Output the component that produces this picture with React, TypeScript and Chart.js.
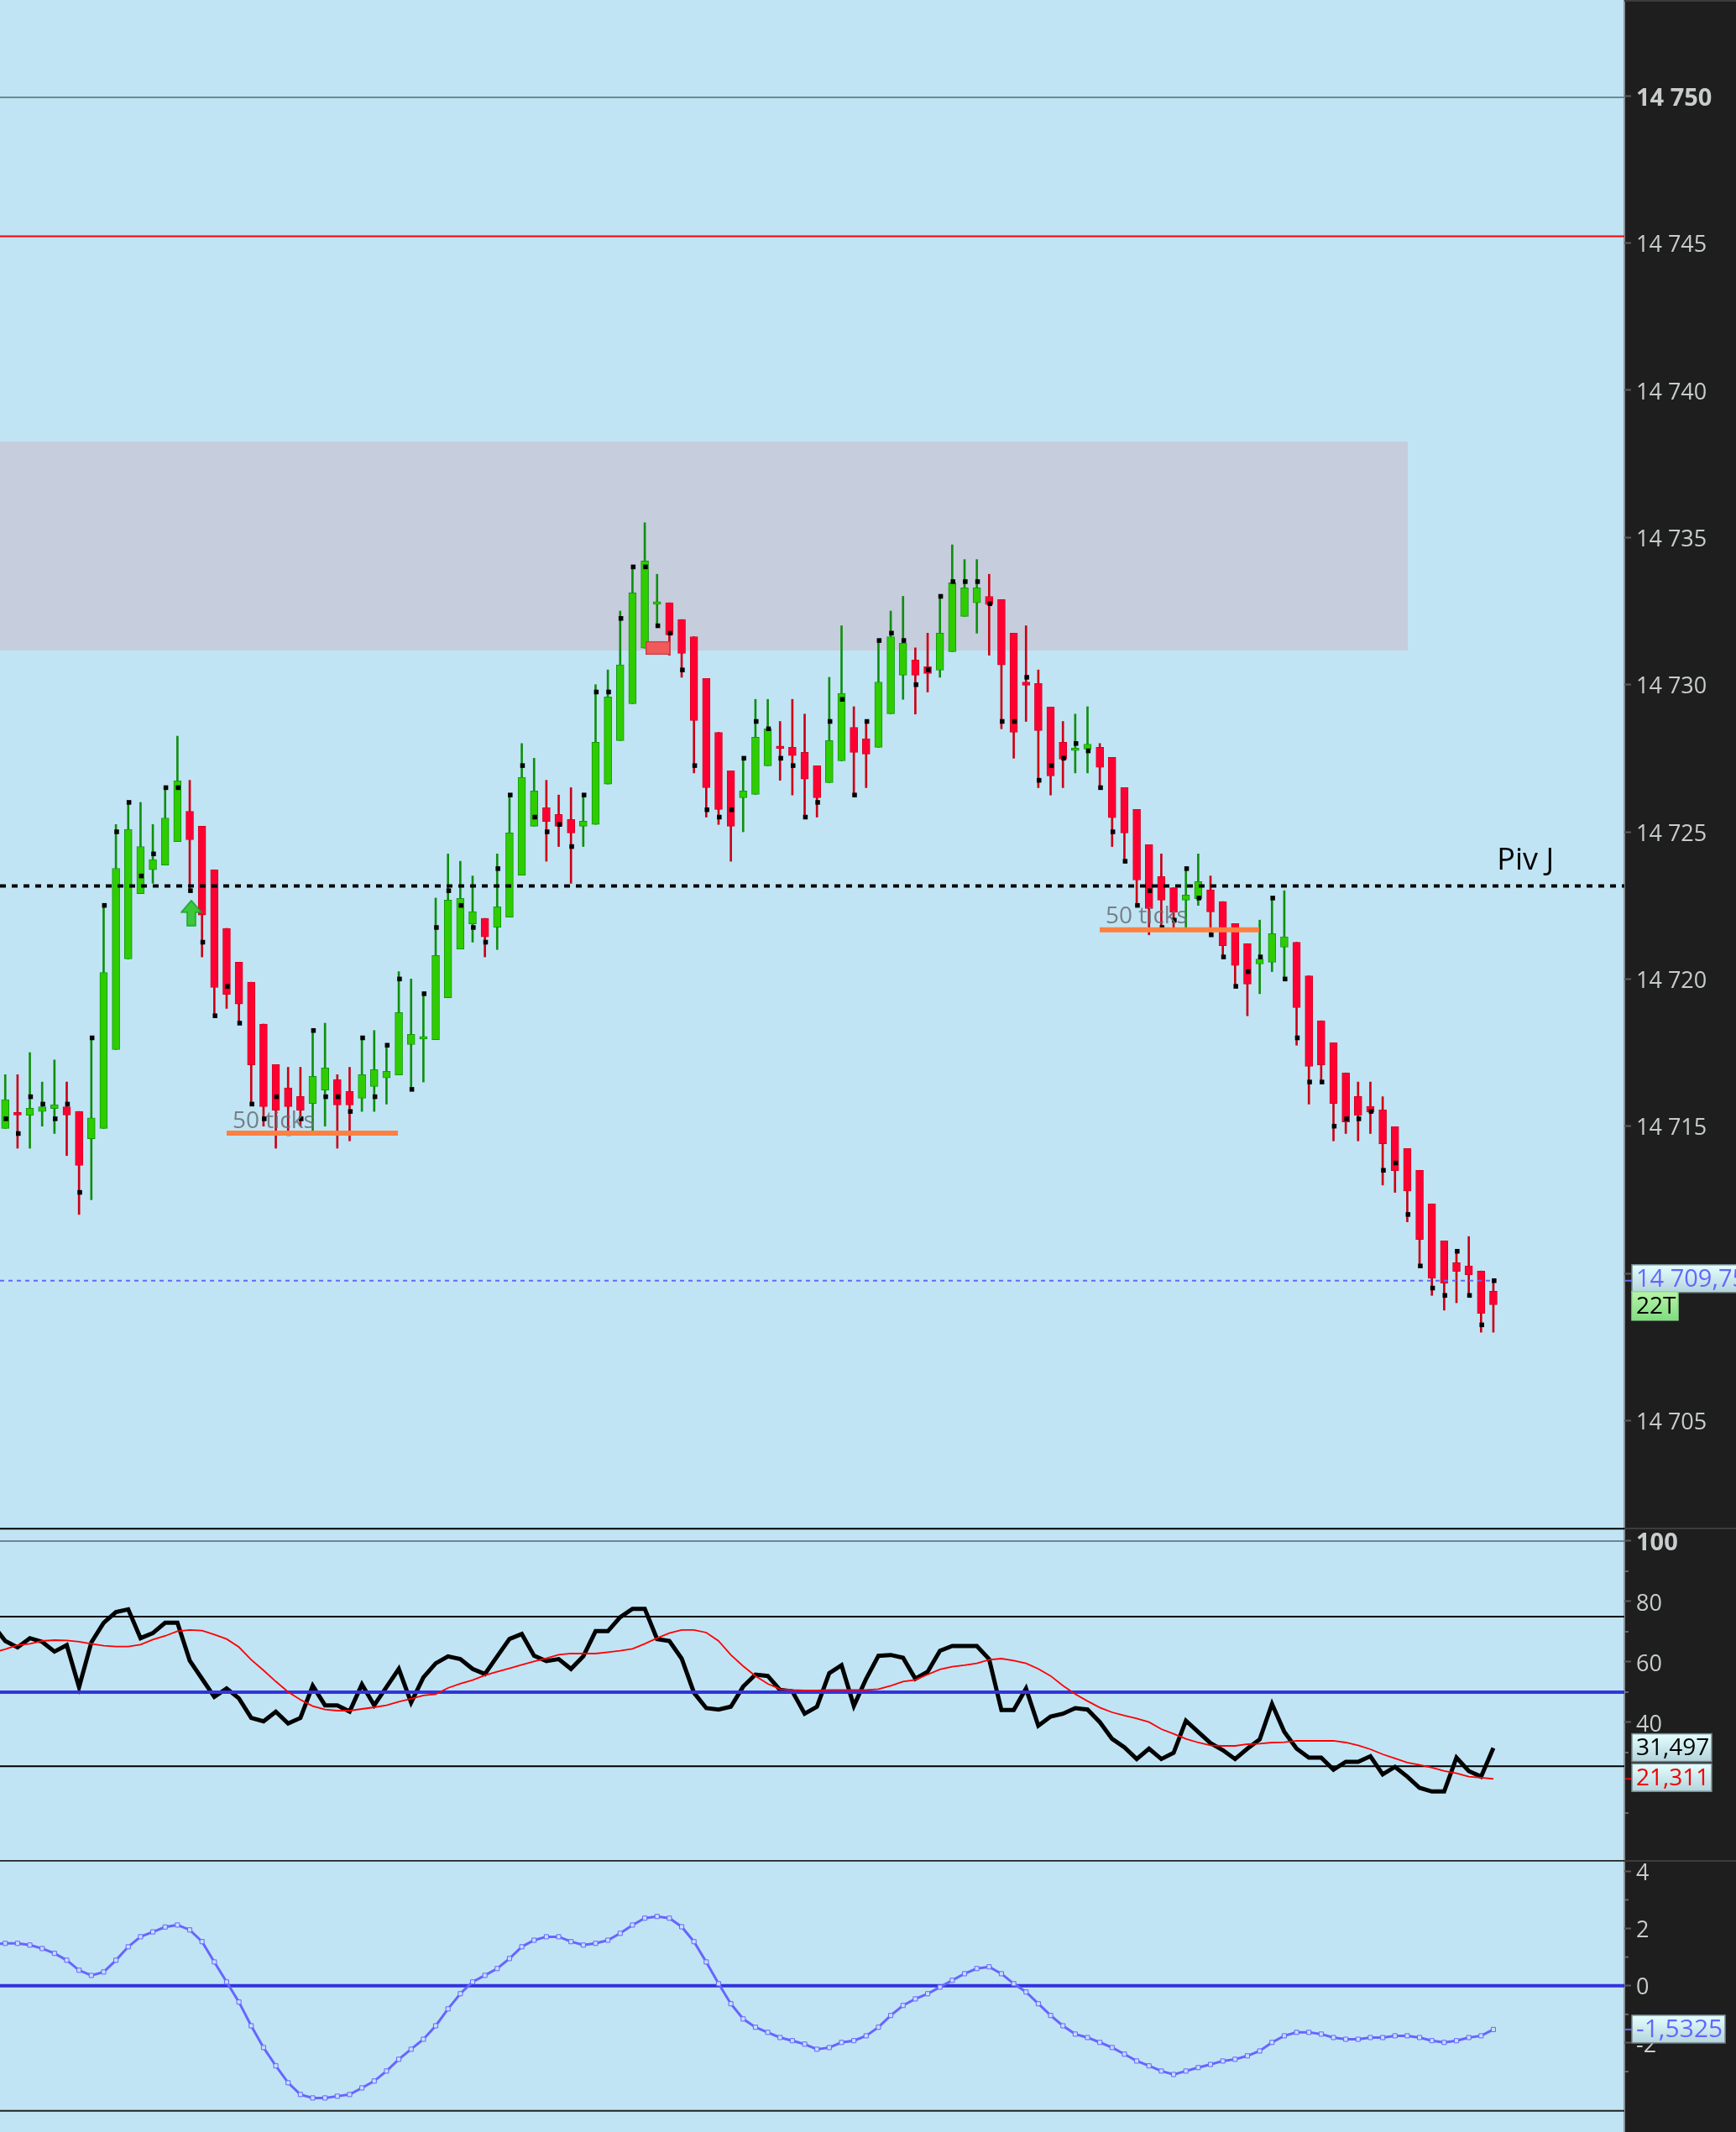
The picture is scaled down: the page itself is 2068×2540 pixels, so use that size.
import React, { useEffect, useRef } from "react";
import { Chart, registerables } from "chart.js";

Chart.register(...registerables);

const BASE_PRICE = 14700;
// Candle values are price minus BASE_PRICE
const opens = [
  14.92,15.42,15.37,15.50,15.60,15.66,15.50,14.57,14.92,17.60,
  20.68,22.90,23.71,23.87,24.67,25.70,25.19,23.71,21.72,20.57,
  19.89,18.47,17.09,16.30,16.01,15.77,16.23,16.58,16.18,15.95,
  16.35,16.64,16.74,17.77,17.96,17.94,19.36,21.02,21.87,22.06,
  21.76,22.10,23.53,25.19,25.82,25.59,25.42,25.19,25.25,26.62,
  28.10,29.35,31.24,32.73,32.78,32.21,31.63,30.21,28.38,27.07,
  26.16,26.27,27.24,27.85,27.87,27.70,27.24,26.67,27.41,28.55,
  28.16,27.87,29.01,30.32,30.84,30.61,30.49,31.12,32.32,32.78,
  33.00,32.89,31.75,30.09,30.04,29.24,28.04,27.76,27.81,27.87,
  27.53,26.50,25.76,24.56,23.48,23.10,22.68,22.73,23.02,22.63,
  21.88,21.20,20.51,20.57,21.08,21.25,20.11,18.58,17.83,16.81,
  16.01,15.67,15.55,14.98,14.24,13.50,12.36,11.10,10.36,10.25,
  10.08,9.39,
];
const closes = [
  15.90,15.38,15.61,15.66,15.73,15.38,13.67,15.28,20.22,23.76,
  25.08,24.50,24.06,25.47,26.73,24.73,22.17,19.71,19.48,19.15,
  17.08,15.66,15.54,15.66,15.54,16.69,16.98,15.72,15.72,16.75,
  16.92,16.86,18.86,18.12,17.99,20.80,22.68,22.74,22.29,21.43,
  22.45,24.96,26.85,26.39,25.35,25.19,24.96,25.36,28.04,29.58,
  30.67,33.12,34.20,32.76,31.69,31.06,28.78,26.50,25.76,25.19,
  26.39,28.21,28.50,27.83,27.59,26.79,26.16,28.10,29.70,27.70,
  27.64,30.09,31.63,31.41,30.32,30.38,31.75,33.46,33.29,33.29,
  32.72,30.67,28.38,29.98,28.44,26.90,27.47,27.80,27.98,27.19,
  25.48,24.96,23.36,22.39,22.68,22.27,22.85,23.31,22.28,21.13,
  20.46,19.83,20.68,21.54,21.43,19.03,17.03,17.08,15.77,15.14,
  15.37,15.48,14.40,13.49,12.80,11.15,9.84,9.67,10.07,9.95,
  8.64,8.93,
];
const highs = [
  16.75,16.75,17.5,16.5,17.25,16.5,15.50,18,22.5,25.25,
  26,26,25.25,26.5,28.25,26.75,25.19,23.71,21.72,20.57,
  19.89,18.47,17.09,17,17,18.25,18.5,16.75,17,18,
  18.25,17.75,20.25,20,19.5,22.75,24.25,24,23.5,22.06,
  24.25,26.25,28,27.5,26.75,26.25,26.5,26.25,30,30.5,
  32.5,34,35.5,33.75,32.78,32.21,31.63,30.21,28.38,27.07,
  27.5,29.5,29.5,28.75,29.5,29,27.24,30.25,32,29.25,
  28.75,31.5,32.5,33,31.25,31.75,33,34.75,34.25,34.25,
  33.75,32.89,31.75,32,30.5,29.24,28.75,29,29.25,28,
  27.53,26.5,25.76,24.56,24.25,23.10,23.75,24.25,23.5,22.63,
  21.88,21.20,22,22.75,23,21.25,20.11,18.58,17.83,16.81,
  16.5,16.5,16,14.98,14.24,13.5,12.36,11.10,10.75,11.25,
  10.08,9.75,
];
const lows = [
  14.92,14.25,14.25,15,14.75,14,12,12.5,14.92,17.60,
  20.68,22.90,23.25,23.87,24.67,23,20.75,18.75,19,18.5,
  15.75,15,14.25,14.75,15,14.75,15,14.25,14.5,15.5,
  15.5,15.75,16.74,16.25,16.5,17.94,19.36,21.02,21.25,20.75,
  21,22.10,23.53,25.19,24,24.5,23.25,24.5,25.25,26.62,
  28.10,29.35,31.24,32,31,30.25,27,25.5,25.25,24,
  25,26.27,27.24,26.75,26.25,25.5,25.5,26.67,27.41,26.25,
  26.5,27.87,29.01,29.5,29,29.75,30.25,31.12,32.32,31.75,
  31,28.5,27.5,28.75,26.5,26.25,26.5,27,27,26.5,
  24.5,24,22.5,21.5,21.75,21.75,21.75,22.5,21.5,20.75,
  19.75,18.75,19.5,20.25,20,17.75,15.75,16.5,14.5,14.75,
  14.5,14.75,13,12.75,11.75,10.25,9.25,8.75,9,9.25,
  8,8,
];
const realCloses = [
  15.25,14.75,16,15.75,15.25,15.75,12.75,18,22.5,25,
  26,23.5,24.25,26.5,26.5,23,21.25,18.75,19.75,18.5,
  15.75,15.25,16,14.75,15.25,18.25,16,16,15.5,18,
  16,17.75,20,16.25,19.5,21.75,23,22.5,21.75,21.25,
  23.75,26.25,27.25,25.5,25,25.25,24.5,26.25,29.75,29.75,
  32.25,34,34,32,31.75,30.5,27.25,25.75,25.5,25.75,
  27.5,28.75,28.5,27.5,27.25,25.5,26,28.75,29.5,26.25,
  28.75,31.5,31.75,31.5,30,30.5,33,33.5,33.5,33.5,
  32.75,28.75,28.75,30.25,26.75,27.25,27.5,28,27.75,26.5,
  25,24,22.5,23,21.75,22,23.75,22.75,21.5,20.75,
  19.75,20.25,20.75,22.75,20,18,16.5,16.5,15,15.25,
  15.25,15.5,13.5,13.75,12,10.25,9.5,9.25,10.75,9.25,
  8.25,9.75,
];
const rsi = [
  66.94,64.81,67.87,66.67,63.43,65.56,51.67,66.48,72.96,76.48,
  77.41,67.87,69.54,72.96,72.96,60.46,54.44,48.43,51.2,47.96,
  41.48,40.37,43.52,39.63,41.48,52.13,45.65,45.65,43.61,52.59,
  45.65,51.67,57.69,46.57,54.91,59.54,61.85,60.93,57.69,56.02,
  61.85,67.59,69.26,62.04,60.28,60.93,57.69,61.85,70.19,70.19,
  74.81,77.59,77.59,67.59,66.94,61.11,49.81,44.72,44.26,45.19,
  51.85,55.83,55.37,50.74,50.28,42.87,45.19,56.3,58.89,45.46,
  54.44,62.04,62.31,61.39,54.44,56.76,63.7,65.28,65.28,65.28,
  60.93,44.07,44.07,51.2,38.89,41.94,42.87,44.72,44.26,40.09,
  34.54,31.76,27.87,31.3,27.87,29.91,40.56,36.85,33.15,30.83,
  27.87,31.3,34.35,46.11,36.85,31.3,28.33,28.33,24.35,26.94,
  26.94,28.8,22.78,25.28,22.04,18.33,17.13,17.13,28.33,23.89,
  22.04,31.5,
];
const rsiSignal = [
  64.17,65.56,66.02,66.94,67.22,67.13,66.67,66.02,65.37,65.09,
  65.09,65.74,67.41,68.61,70.19,70.56,70.37,69.07,67.59,64.91,
  60.74,57.22,53.52,50.09,47.5,45.37,44.26,43.89,43.89,44.44,
  45,45.65,46.85,47.78,48.89,49.35,51.39,52.78,53.98,55.56,
  56.76,57.87,59.07,60.19,61.2,62.41,62.78,62.78,62.78,63.24,
  63.7,64.35,66.02,67.87,69.54,70.56,70.56,69.72,66.94,62.31,
  58.61,55.37,52.78,51.02,50.74,50.56,50.56,50.74,50.74,50.74,
  50.74,51.02,52.13,53.52,54.07,55.83,57.5,58.43,58.89,59.54,
  60.74,61.11,60.46,59.54,57.69,55.37,52.13,49.35,47.04,44.91,
  43.33,42.22,41.3,40.09,37.78,36.2,34.54,33.33,32.41,32.22,
  32.22,32.78,32.96,33.33,33.43,33.89,33.89,33.89,33.89,33.33,
  32.41,31.11,29.44,28.06,26.67,25.93,25,23.89,23.15,22.04,
  21.67,21.31,
];
const oscillator = [
  1.48,1.48,1.42,1.30,1.13,0.89,0.54,0.36,0.48,0.89,
  1.36,1.71,1.88,2.05,2.12,1.95,1.54,0.83,0.13,-0.57,
  -1.40,-2.16,-2.80,-3.39,-3.80,-3.92,-3.92,-3.86,-3.80,-3.57,
  -3.33,-2.98,-2.57,-2.22,-1.87,-1.40,-0.81,-0.28,0.13,0.36,
  0.60,0.95,1.36,1.59,1.71,1.71,1.54,1.42,1.48,1.59,
  1.83,2.12,2.36,2.42,2.36,2.06,1.54,0.83,0.07,-0.63,
  -1.16,-1.45,-1.63,-1.81,-1.92,-2.04,-2.22,-2.16,-1.98,-1.92,
  -1.75,-1.45,-1.04,-0.69,-0.46,-0.28,-0.05,0.19,0.42,0.60,
  0.66,0.42,0.07,-0.22,-0.63,-1.04,-1.40,-1.69,-1.81,-1.98,
  -2.16,-2.39,-2.63,-2.80,-2.98,-3.10,-2.98,-2.86,-2.75,-2.63,
  -2.57,-2.45,-2.28,-1.98,-1.75,-1.63,-1.63,-1.69,-1.81,-1.87,
  -1.87,-1.81,-1.81,-1.75,-1.75,-1.81,-1.92,-1.98,-1.92,-1.81,
  -1.75,-1.53,
];
// Values one bar before the first visible bar, so lines run in from the left edge
const rsiBefore = 72.3;
const signalBefore = 63.2;
const oscillatorBefore = 1.45;

const priceTicks = [14705, 14710, 14715, 14720, 14725, 14730, 14735, 14740, 14745, 14750];
const rsiTicks = [100, 80, 60, 40];
const rsiMinorTicks = [90, 70, 50, 30, 10];
const oscTicks = [4, 2, 0, -2];
const oscMinorTicks = [3, 1, -1, -3];
const boldTicks = [14750, 100];

const pivotPrice = 14723.16;
const pivotLabel = "Piv J";
const lastPrice = 14709.75;
const lastPriceLabel = "14 709,75";
const timerLabel = "22T";
const greyLevel = 14749.95;
const redLevel = 14745.23;
const zoneTop = 14738.26;
const zoneBottom = 14731.16;
const zoneEndIndex = 114.04;
const tickLabel = "50 ticks";
const tickLines = [
  { from: 18.0, to: 31.93, price: 14714.76, labelPrice: 14715.16, labelFrom: 18.48 },
  { from: 88.99, to: 101.96, price: 14721.67, labelPrice: 14722.12, labelFrom: 89.47 },
];
const arrowPoint = { x: 15.13, y: 14722.24 };
const orderBox = { x: 53.07, from: 14731.02, to: 14731.47 };
const rsiLabels = { value: "31,497", signal: "21,311" };
const oscLabel = "-1,5325";

const W = 2068;
const PLOT_W = 1935;
const AXIS_W = W - PLOT_W;
const X_MIN = -0.427;
const X_MAX = 131.65;
const AXIS_COLOR = "#c8cccc";
const BG = "#c0e4f4";
const PANEL = "#1e1e1e";

const idx = opens.map((_, i) => i);
const px = (v: number) => BASE_PRICE + v;

const level = (y: number, color: string, width: number, order: number, dash: number[] = [], x0 = X_MIN, x1 = X_MAX) => ({
  type: "line" as const,
  data: [{ x: x0, y }, { x: x1, y }],
  borderColor: color,
  borderWidth: width,
  borderDash: dash,
  pointRadius: 0,
  order,
});

const drawBox = (ctx: CanvasRenderingContext2D, x: number, y: number, w: number, h: number, text: string, color: string, size = 28, top = "#e4ffff", bottom = "#b4d4dc", border = "#7a8a90") => {
  const g = ctx.createLinearGradient(0, y, 0, y + h);
  g.addColorStop(0, top);
  g.addColorStop(1, bottom);
  ctx.fillStyle = g;
  ctx.fillRect(x, y, w, h);
  ctx.strokeStyle = border;
  ctx.lineWidth = 1.5;
  ctx.strokeRect(x, y, w, h);
  ctx.fillStyle = color;
  ctx.font = `${size}px 'Open Sans'`;
  ctx.textAlign = "left";
  ctx.textBaseline = "middle";
  ctx.fillText(text, x + 5, y + h / 2 + 1);
};

const panelBackground = {
  id: "panelBackground",
  beforeDraw(chart: any) {
    const { ctx, width, height } = chart;
    ctx.save();
    ctx.fillStyle = BG;
    ctx.fillRect(0, 0, PLOT_W, height);
    ctx.fillStyle = PANEL;
    ctx.fillRect(PLOT_W, 0, width - PLOT_W, height);
    ctx.fillStyle = "#8a9298";
    ctx.fillRect(PLOT_W - 1, 0, 2, height);
    ctx.fillStyle = "#3c3c3c";
    ctx.fillRect(PLOT_W, 0, width - PLOT_W, 2);
    ctx.restore();
  },
};

const minorTicks = (values: number[]) => ({
  id: "minorTicks",
  afterDraw(chart: any) {
    const { ctx, scales } = chart;
    ctx.save();
    ctx.fillStyle = "#666";
    values.forEach((v) => ctx.fillRect(PLOT_W + 1, scales.y.getPixelForValue(v) - 1, 4, 2));
    ctx.restore();
  },
});

const makeArrow = () => {
  const c = document.createElement("canvas");
  c.width = 26;
  c.height = 32;
  const g = c.getContext("2d")!;
  g.beginPath();
  g.moveTo(13, 1);
  g.lineTo(25, 15);
  g.lineTo(18, 15);
  g.lineTo(18, 31);
  g.lineTo(8, 31);
  g.lineTo(8, 15);
  g.lineTo(1, 15);
  g.closePath();
  g.fillStyle = "#3cc83c";
  g.fill();
  g.strokeStyle = "#1fa02f";
  g.lineWidth = 1.5;
  g.stroke();
  return c;
};

const baseOptions = (min: number, max: number, ticks: number[], format: (v: number) => string) => ({
  responsive: false,
  animation: false as const,
  devicePixelRatio: 1,
  events: [] as any[],
  layout: { padding: 0, autoPadding: false },
  plugins: { legend: { display: false }, tooltip: { enabled: false } },
  scales: {
    x: { type: "linear" as const, min: X_MIN, max: X_MAX, display: false, offset: false, grid: { display: false } },
    y: {
      type: "linear" as const,
      position: "right" as const,
      min,
      max,
      afterFit: (s: any) => {
        s.width = AXIS_W;
        s.paddingTop = 0;
        s.paddingBottom = 0;
      },
      afterBuildTicks: (s: any) => { s.ticks = ticks.map((value) => ({ value })); },
      border: { display: false },
      grid: { drawOnChartArea: false, drawTicks: true, tickLength: 8, tickColor: "#5a5a5a", tickWidth: 2 },
      ticks: {
        autoSkip: false,
        padding: 6,
        labelOffset: 3,
        maxRotation: 0,
        color: AXIS_COLOR,
        font: (ctx: any) =>
          ctx.tick && boldTicks.includes(ctx.tick.value)
            ? { family: "'Open Sans'", size: 29, weight: "bold" }
            : { family: "'Open Sans'", size: 27 },
        callback: (v: any) => format(Number(v)),
      },
    },
  },
});

export default function App() {
  const mainRef = useRef<HTMLCanvasElement>(null);
  const rsiRef = useRef<HTMLCanvasElement>(null);
  const oscRef = useRef<HTMLCanvasElement>(null);

  useEffect(() => {
    const isUp = (i: number) => closes[i] >= opens[i];
    const wickColors = idx.map((i) => (isUp(i) ? "#0f8f0f" : "#cc0014"));
    const bodyColors = idx.map((i) => (isUp(i) ? "#2fcc00" : "#ff0033"));
    const bodyBorders = idx.map((i) => (isUp(i) ? "#109a10" : "#d80020"));

    const mainDecor = {
      id: "mainDecor",
      beforeDatasetsDraw(chart: any) {
        const { ctx, scales } = chart;
        const yTop = scales.y.getPixelForValue(zoneTop);
        const yBot = scales.y.getPixelForValue(zoneBottom);
        const xEnd = scales.x.getPixelForValue(zoneEndIndex);
        ctx.save();
        ctx.fillStyle = "#c6cddc";
        ctx.fillRect(0, yTop, xEnd, yBot - yTop);
        ctx.restore();
      },
      afterDatasetsDraw(chart: any) {
        const { ctx, scales } = chart;
        ctx.save();
        ctx.textBaseline = "middle";
        ctx.textAlign = "left";
        ctx.font = "28px 'Open Sans'";
        ctx.fillStyle = "rgba(105,110,115,0.85)";
        tickLines.forEach((t) => {
          ctx.fillText(tickLabel, scales.x.getPixelForValue(t.labelFrom), scales.y.getPixelForValue(t.labelPrice));
        });
        ctx.font = "36px 'Open Sans'";
        ctx.fillStyle = "#000";
        ctx.fillText(pivotLabel, scales.x.getPixelForValue(121.3), scales.y.getPixelForValue(14724.0));
        ctx.restore();
      },
      afterDraw(chart: any) {
        const { ctx, scales } = chart;
        const y = scales.y.getPixelForValue(lastPrice);
        ctx.save();
        ctx.fillStyle = "#6666ff";
        ctx.fillRect(PLOT_W + 1, y - 1, 8, 2);
        drawBox(ctx, 1944, y - 19, 130, 33, lastPriceLabel, "#6666ff", 29);
        drawBox(ctx, 1944, y + 13, 55, 34, timerLabel, "#000", 28, "#b8f4a8", "#80dc80", "#90d890");
        ctx.restore();
      },
    };

    const main = new Chart(mainRef.current!, {
      type: "bar",
      data: {
        datasets: [
          level(greyLevel, "#6f8a96", 2, 20),
          level(redLevel, "#ff0000", 2, 20),
          {
            data: idx.map((i) => ({ x: i, y: [px(lows[i]), px(highs[i])] })),
            backgroundColor: wickColors,
            barThickness: 2,
            grouped: false,
            order: 8,
          },
          {
            data: idx.map((i) => ({ x: i, y: [px(opens[i]), px(closes[i])] })),
            backgroundColor: bodyColors,
            borderColor: bodyBorders,
            borderWidth: 1,
            borderSkipped: false,
            barThickness: 9,
            minBarLength: 3,
            grouped: false,
            order: 7,
          },
          {
            type: "line",
            data: idx.map((i) => ({ x: i + 0.06, y: px(realCloses[i]) })),
            showLine: false,
            pointStyle: "rect",
            pointRadius: 3.9,
            pointBackgroundColor: "#000",
            pointBorderWidth: 0,
            order: 6,
          },
          {
            data: [{ x: orderBox.x, y: [orderBox.from, orderBox.to] }],
            backgroundColor: "#f05a5a",
            borderColor: "#c84048",
            borderWidth: 1.5,
            borderSkipped: false,
            barThickness: 29,
            grouped: false,
            order: 5,
          },
          level(pivotPrice, "#000", 4, 4, [7, 7]),
          level(lastPrice, "#6666ff", 2, 3, [5, 5], X_MIN, 121),
          ...tickLines.map((t) => level(t.price, "#ff8040", 6, 2, [], t.from, t.to)),
          {
            type: "line",
            data: [arrowPoint],
            showLine: false,
            pointStyle: makeArrow(),
            pointRadius: 16,
            order: 1,
          },
        ] as any,
      },
      options: baseOptions(14701.36, 14753.26, priceTicks, (v) => `14 ${String(v - 14000)}`) as any,
      plugins: [panelBackground, mainDecor],
    });

    const rsiDecor = {
      id: "rsiDecor",
      afterDraw(chart: any) {
        const { ctx, scales } = chart;
        const v = rsi[rsi.length - 1];
        const s = rsiSignal[rsiSignal.length - 1];
        ctx.save();
        ctx.fillStyle = "#f00000";
        ctx.fillRect(PLOT_W + 1, scales.y.getPixelForValue(s) - 1, 8, 2);
        drawBox(ctx, 1944, scales.y.getPixelForValue(v) - 17, 95, 33, rsiLabels.value, "#000");
        drawBox(ctx, 1944, scales.y.getPixelForValue(s) - 18, 95, 33, rsiLabels.signal, "#f00000");
        ctx.restore();
      },
    };

    const rsiChart = new Chart(rsiRef.current!, {
      type: "line",
      data: {
        datasets: [
          level(104.08, "#000", 2, 5),
          level(100, "#6f8590", 2, 5),
          level(75, "#000", 2, 5),
          level(25.5, "#000", 2, 5),
          level(50, "#3333dd", 4, 1),
          {
            data: [{ x: -1, y: rsiBefore }, ...idx.map((i) => ({ x: i, y: rsi[i] }))],
            borderColor: "#000",
            borderWidth: 5,
            pointRadius: 0,
            borderJoinStyle: "miter",
            order: 2,
          },
          {
            data: [{ x: -1, y: signalBefore }, ...idx.map((i) => ({ x: i, y: rsiSignal[i] }))],
            borderColor: "#ff0000",
            borderWidth: 1.8,
            pointRadius: 0,
            order: 0,
          },
        ] as any,
      },
      options: baseOptions(-5.56, 104.44, rsiTicks, (v) => String(v)) as any,
      plugins: [panelBackground, minorTicks(rsiMinorTicks), rsiDecor],
    });

    const oscDecor = {
      id: "oscDecor",
      afterDraw(chart: any) {
        const { ctx, scales } = chart;
        const v = oscillator[oscillator.length - 1];
        const y = scales.y.getPixelForValue(v);
        ctx.save();
        ctx.fillStyle = "#6666ff";
        ctx.fillRect(PLOT_W + 1, y - 1, 8, 2);
        drawBox(ctx, 1944, y - 17, 111, 33, oscLabel, "#6666ff", 30);
        ctx.restore();
      },
    };

    const oscChart = new Chart(oscRef.current!, {
      type: "line",
      data: {
        datasets: [
          level(4.37, "#222", 2, 5),
          level(-4.37, "#222", 2, 5),
          level(0, "#3333dd", 4, 1),
          {
            data: [{ x: -1, y: oscillatorBefore }, ...idx.map((i) => ({ x: i, y: oscillator[i] }))],
            borderColor: "#6666ff",
            borderWidth: 3,
            pointStyle: "rect",
            pointRadius: 3.6,
            pointBackgroundColor: "#c8dcff",
            pointBorderColor: "#6666ff",
            pointBorderWidth: 1,
            order: 0,
          },
        ] as any,
      },
      options: baseOptions(-5.11, 4.39, oscTicks, (v) => String(v)) as any,
      plugins: [panelBackground, minorTicks(oscMinorTicks), oscDecor],
    });

    return () => {
      main.destroy();
      rsiChart.destroy();
      oscChart.destroy();
    };
  }, []);

  const canvasStyle = (top: number): React.CSSProperties => ({ position: "absolute", left: 0, top, display: "block" });

  return (
    <div style={{ position: "absolute", left: 0, top: 0, width: W, height: 2540, overflow: "hidden" }}>
      <canvas ref={mainRef} width={W} height={1820} style={canvasStyle(0)} />
      <canvas ref={rsiRef} width={W} height={396} style={canvasStyle(1820)} />
      <canvas ref={oscRef} width={W} height={324} style={canvasStyle(2216)} />
    </div>
  );
}
